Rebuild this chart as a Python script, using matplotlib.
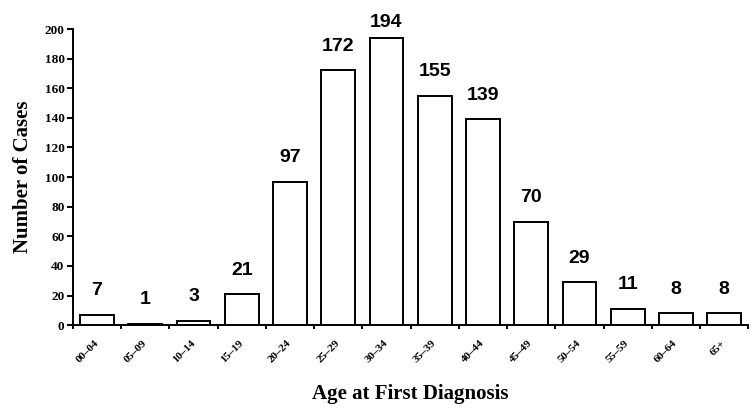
import numpy as np
import matplotlib.pyplot as plt

# age groups and case counts
ages = ['00–04', '05–09', '10–14', '15–19', '20–24', '25–29', '30–34',
        '35–39', '40–44', '45–49', '50–54', '55–59', '60–64', '65+']
cases = [7, 1, 3, 21, 97, 172, 194, 155, 139, 70, 29, 11, 8, 8]

serif = ['Liberation Serif', 'DejaVu Serif']
sans = ['Liberation Sans', 'DejaVu Sans']

fig = plt.figure(figsize=(7.52, 4.09), dpi=100)
ax = fig.add_axes([0.097, 0.205, 0.898, 0.724])

x = np.arange(len(ages))
ax.bar(x, cases, width=0.7, color='white', edgecolor='black', linewidth=1.4)

top = max(cases)
for xi, v in zip(x, cases):
    # the tallest label is pulled down a bit so it stays inside the figure
    off = 8 if v == top else 14
    ax.annotate(str(v), (xi, v), xytext=(0, off), textcoords='offset points',
                ha='center', va='baseline', fontsize=14, fontweight='bold', family=sans)

ax.set_xlim(-0.5, len(ages) - 0.5)
ax.set_ylim(0, 200)
ax.set_yticks(range(0, 201, 20))
ax.set_yticklabels([str(t) for t in range(0, 201, 20)], fontsize=9.5,
                   fontweight='bold', family=serif)

# ticks sit on the category boundaries, labels in the middle
ax.set_xticks(np.arange(len(ages) + 1) - 0.5)
ax.set_xticklabels([])
ax.set_xticks(x, minor=True)
ax.set_xticklabels(ages, minor=True, rotation=45, fontsize=8, fontweight='bold',
                   family=serif, ha='right', va='center', rotation_mode='anchor')
ax.tick_params(axis='x', which='minor', length=0, pad=12)
ax.tick_params(axis='x', which='major', direction='out', length=3, width=1.4)
ax.tick_params(axis='y', direction='out', length=4, width=1.4, pad=2)

for s in ['top', 'right']:
    ax.spines[s].set_visible(False)
for s in ['left', 'bottom']:
    ax.spines[s].set_linewidth(1.4)

ax.set_ylabel('Number of Cases', fontsize=15, fontweight='bold', family=serif, labelpad=8)
ax.set_xlabel('Age at First Diagnosis', fontsize=15, fontweight='bold', family=serif, labelpad=14)

fig.savefig('out.png', dpi=100)
